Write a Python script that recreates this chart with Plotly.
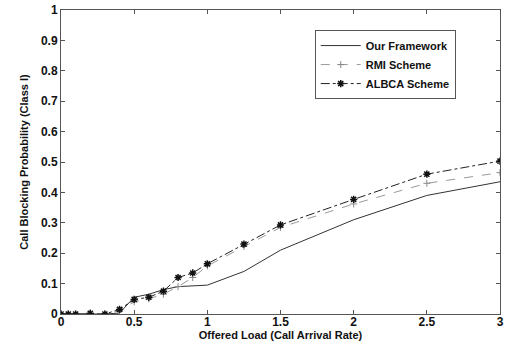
import plotly.graph_objects as go

load = [0, 0.05, 0.1, 0.2, 0.3, 0.4, 0.5, 0.6, 0.7, 0.8, 0.9, 1.0, 1.25, 1.5, 2.0, 2.5, 3.0]
our_framework = [0, 0, 0, 0.001, 0, 0.003, 0.055, 0.065, 0.08, 0.09, 0.093, 0.095, 0.14, 0.21, 0.31, 0.39, 0.435]
rmi_scheme = [0, 0, 0, 0.003, 0, 0.01, 0.04, 0.05, 0.065, 0.09, 0.12, 0.158, 0.222, 0.285, 0.362, 0.43, 0.465]
albca_scheme = [0, 0, 0, 0.002, 0, 0.015, 0.048, 0.055, 0.075, 0.12, 0.135, 0.165, 0.23, 0.293, 0.377, 0.46, 0.503]

x_ticks = [0, 0.5, 1, 1.5, 2, 2.5, 3]
y_ticks = [0, 0.1, 0.2, 0.3, 0.4, 0.5, 0.6, 0.7, 0.8, 0.9, 1]

fig = go.Figure()
fig.add_trace(go.Scatter(x=load, y=our_framework, mode="lines", name="<b>Our Framework</b>",
                         line=dict(color="#333333", width=1)))
fig.add_trace(go.Scatter(x=load, y=rmi_scheme, mode="lines+markers", name="<b>RMI Scheme</b>",
                         line=dict(color="#999999", width=1, dash="dash"),
                         marker=dict(symbol="cross-thin", size=5, line=dict(color="#888888", width=1))))
fig.add_trace(go.Scatter(x=load, y=albca_scheme, mode="lines+markers", name="<b>ALBCA Scheme</b>",
                         line=dict(color="#222222", width=1, dash="dashdot"),
                         marker=dict(symbol="asterisk", size=6, line=dict(color="#111111", width=1.5))))

axis_common = dict(showline=True, linecolor="#555555", linewidth=1, mirror="ticks",
                   ticks="inside", ticklen=4, tickcolor="#555555", showgrid=False, zeroline=False,
                   automargin=False, ticklabeloverflow="allow",
                   tickfont=dict(family="Liberation Sans", size=12, color="#111111"))

fig.update_xaxes(range=[0, 3], tickvals=x_ticks, ticktext=[f"<b>{v:g}</b>" for v in x_ticks],
                 ticklabelstandoff=-3,
                 title=dict(text="<b>Offered Load (Call Arrival Rate)</b>", standoff=0,
                            font=dict(family="Liberation Sans", size=11, color="#111111")),
                 **axis_common)
fig.update_yaxes(range=[0, 1], tickvals=y_ticks, ticktext=[f"<b>{v:g}</b>" for v in y_ticks],
                 title=dict(text="<b>Call Blocking Probability (Class I)</b>", standoff=10,
                            font=dict(family="Liberation Sans", size=11, color="#111111")),
                 **axis_common)

fig.update_layout(
    width=507, height=345,
    margin=dict(l=61, r=7, t=10, b=31, autoexpand=False),
    paper_bgcolor="white", plot_bgcolor="white",
    legend=dict(x=0.578, y=0.934, xanchor="left", yanchor="top",
                bgcolor="white", bordercolor="#555555", borderwidth=1,
                font=dict(family="Liberation Sans", size=11, color="#111111"),
                tracegroupgap=0, itemwidth=40),
    showlegend=True,
)

fig.write_html("out.html", config={"displayModeBar": False, "staticPlot": True},
               post_script="document.body.style.margin='0';document.body.style.overflow='hidden';")
